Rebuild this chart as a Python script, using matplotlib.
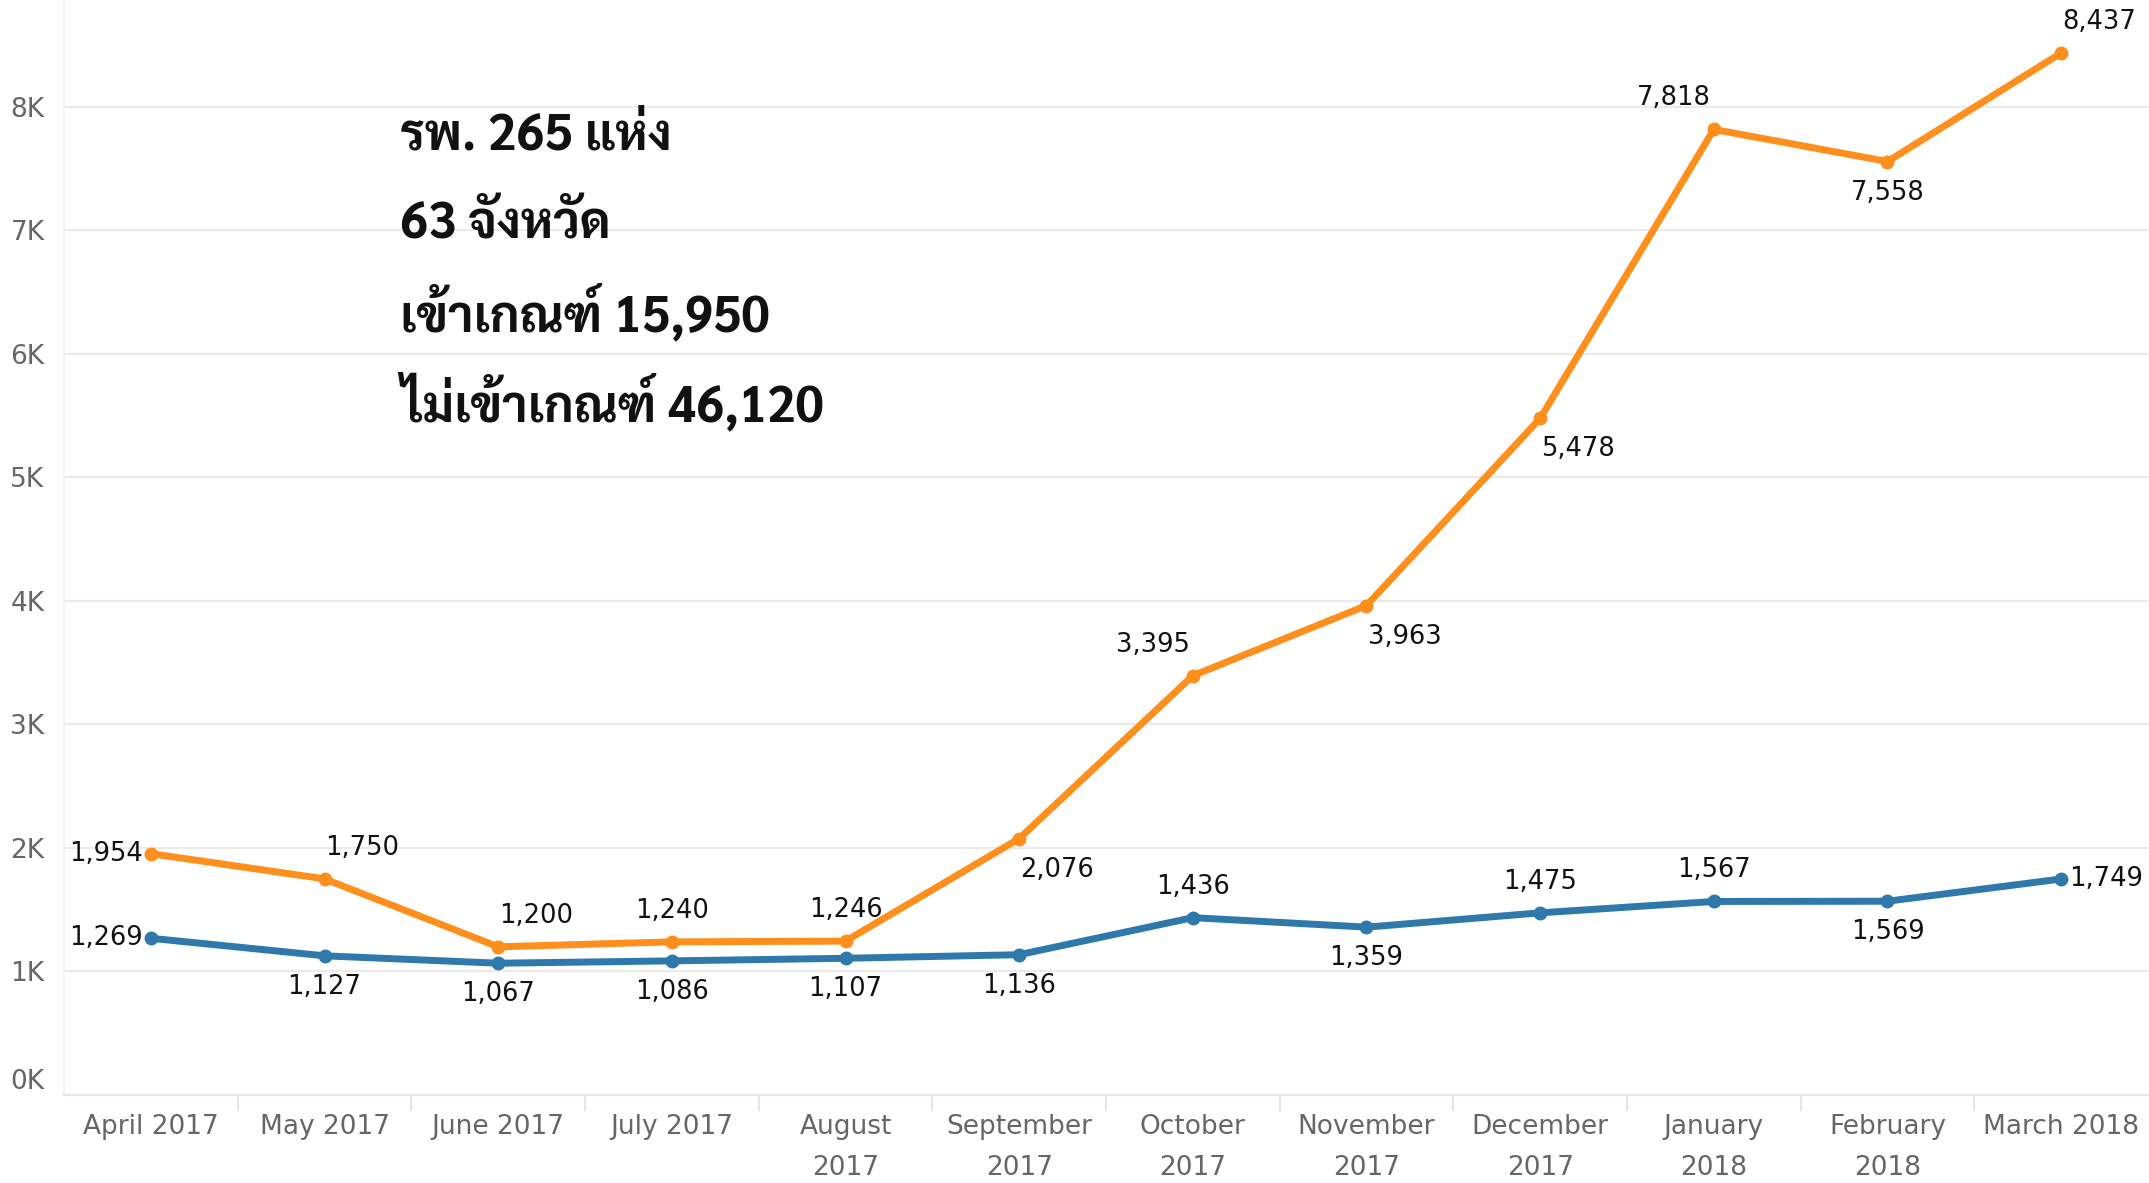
import matplotlib
matplotlib.use("Agg")
import matplotlib.pyplot as plt

# data
months = ["April 2017", "May 2017", "June 2017", "July 2017", "August\n2017",
          "September\n2017", "October\n2017", "November\n2017", "December\n2017",
          "January\n2018", "February\n2018", "March 2018"]
not_passed = [1954, 1750, 1200, 1240, 1246, 2076, 3395, 3963, 5478, 7818, 7558, 8437]
passed = [1269, 1127, 1067, 1086, 1107, 1136, 1436, 1359, 1475, 1567, 1569, 1749]
y_ticks = [0, 1000, 2000, 3000, 4000, 5000, 6000, 7000, 8000]
note_lines = ["รพ. 265 แห่ง", "63 จังหวัด", "เข้าเกณฑ์ 15,950", "ไม่เข้าเกณฑ์ 46,120"]

# label placement per point (layout only)
orange_pos = ["left", "ur", "ur", "up", "up", "dr", "ul", "dr", "dr", "ul", "down", "ur"]
blue_pos = ["left", "down", "down", "down", "down", "down", "up", "down", "up", "up", "down", "right"]

ORANGE = "#FF8F1C"
BLUE = "#2E78AB"

offsets = {
    "left": (-8, 0, "right", "center"),
    "right": (8, 0, "left", "center"),
    "up": (0, 18, "center", "bottom"),
    "down": (0, -18, "center", "top"),
    "ur": (38, 18, "center", "bottom"),
    "ul": (-40, 18, "center", "bottom"),
    "dr": (38, -18, "center", "top"),
}

fig = plt.figure(figsize=(21.49, 11.83), dpi=100)
ax = fig.add_axes([64 / 2149, 88 / 1183, 2084 / 2149, 1095 / 1183])

x = list(range(len(months)))
ax.plot(x, passed, color=BLUE, lw=5, marker="o", ms=9, solid_capstyle="round", zorder=3)
ax.plot(x, not_passed, color=ORANGE, lw=5, marker="o", ms=9, solid_capstyle="round", zorder=3)

for series, pos in ((not_passed, orange_pos), (passed, blue_pos)):
    for xi, v, p in zip(x, series, pos):
        dx, dy, ha, va = offsets[p]
        ax.annotate(f"{v:,}", (xi, v), xytext=(dx, dy), textcoords="offset pixels",
                    ha=ha, va=va, fontsize=18.5, color="#111111", zorder=4)

ax.set_xlim(-0.5, len(months) - 0.5)
ax.set_ylim(0, 8866)
ax.set_yticks(y_ticks)
ax.set_yticklabels([f"{int(t / 1000)}K" for t in y_ticks])
ax.grid(axis="y", color="#ebebeb", lw=1.6)
ax.set_axisbelow(True)
ax.set_xticks(x)
ax.set_xticklabels(months, linespacing=1.75)
ax.tick_params(axis="x", length=0, pad=14, labelsize=19, labelcolor="#666666")
ax.tick_params(axis="y", length=0, pad=14, labelsize=19, labelcolor="#666666")
# Tableau lifts the bottom label to sit inside the pane
ax.get_yticklabels()[0].set_va("bottom")
for s in ("top", "right"):
    ax.spines[s].set_visible(False)
ax.spines["bottom"].set_color("#e6e6e6")
ax.spines["bottom"].set_linewidth(1.6)
ax.spines["left"].set_color("#f0f0f0")
ax.spines["left"].set_linewidth(1.2)

# separators between month bands under the axis
for b in range(1, len(months)):
    ax.plot([b - 0.5, b - 0.5], [0, -120], color="#e6e6e6", lw=1.4, clip_on=False)

for i, line in enumerate(note_lines):
    fig.text(400 / 2149, 1 - (137 + 89 * i) / 1183, line, family=["Sarabun", "DejaVu Sans"],
             fontsize=36, fontweight="bold", color="#111111", ha="left", va="center")

fig.savefig("out.png", dpi=100)
